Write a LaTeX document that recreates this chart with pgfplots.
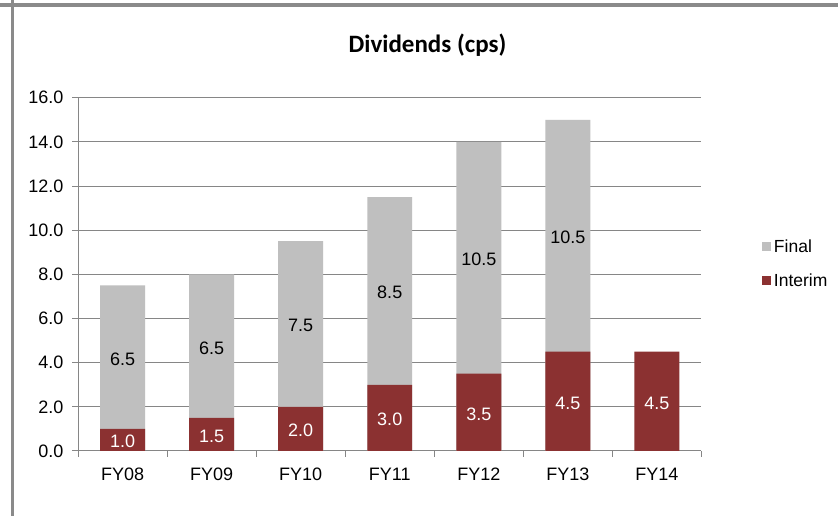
\documentclass[border=0pt]{standalone}
\usepackage{pgfplots}
\pgfplotsset{compat=1.18}
\usepackage{fontspec}
\setmainfont{Liberation Sans}
\newfontfamily\titlefont{Carlito}
\definecolor{interim}{RGB}{139,49,49}
\definecolor{final}{RGB}{191,191,191}
\definecolor{gridc}{RGB}{134,134,134}
\definecolor{framec}{RGB}{138,138,138}
\begin{document}
\begin{tikzpicture}[x=1pt,y=1pt]
\path[use as bounding box] (0,0) rectangle (838,516);
\fill[white] (0,0) rectangle (838,516);
\draw[framec, line width=3.8pt] (0,510.7) -- (838,510.7);
\draw[framec, line width=3.5pt] (12.7,0) -- (12.7,516);
\node[font=\titlefont\bfseries\fontsize{25}{30}\selectfont] at (427.5,471) {Dividends (cps)};
\begin{axis}[
  at={(78pt,65pt)}, anchor=south west,
  scale only axis, width=623.5pt, height=353.3pt,
  xmin=-0.5, xmax=6.5, ymin=0, ymax=16,
  axis lines*=left,
  axis line style={gridc, line width=1pt},
  ytick={0,2,...,16},
  ymajorgrids, grid style={gridc, line width=1pt},
  xtick={-0.5,0.5,...,6.5},
  xticklabels={},
  extra x ticks={0,1,2,3,4,5,6},
  extra x tick labels={FY08,FY09,FY10,FY11,FY12,FY13,FY14},
  extra x tick style={tick style={draw=none}},
  major tick length=6pt,
  tick align=outside,
  tick style={gridc, line width=1pt},
  tick label style={font=\fontsize{18}{21.6}\selectfont, text=black},
  yticklabel style={/pgf/number format/.cd, fixed, fixed zerofill, precision=1, /tikz/.cd, xshift=-5pt},
  /pgf/number format/assume math mode=true,
  xticklabel style={anchor=north, text height=12.9pt, text depth=0pt, yshift=-7pt},
  legend style={at={(1.097,0.531)}, anchor=west, draw=none, fill=none, inner sep=0pt, outer sep=0pt,
    font=\fontsize{17.5}{21}\selectfont, row sep=21.5pt, /tikz/column sep=3pt,
    nodes={inner sep=0pt, text height=12.6pt, text depth=0pt}},
  legend cell align=left,
  clip=false,
]
\addplot[ybar, bar width=0.505, bar shift=0pt, fill=final, draw=none,
  legend image code/.code={\fill[final] (0pt,-4.5pt) rectangle (9pt,4.5pt);}]
  table {
x y
0 7.5
1 8.0
2 9.5
3 11.5
4 14.0
5 15.0
};
\addlegendentry{Final}
\addplot[ybar, bar width=0.505, bar shift=0pt, fill=interim, draw=none,
  legend image code/.code={\fill[interim] (0pt,-4.5pt) rectangle (9pt,4.5pt);}]
  table {
x y
0 1.0
1 1.5
2 2.0
3 3.0
4 3.5
5 4.5
6 4.5
};
\addlegendentry{Interim}
\addplot[forget plot, draw=none, mark=none, nodes near coords, point meta=explicit symbolic,
  every node near coord/.append style={anchor=center, text=black, yshift=-1.5pt,
    text height=12.9pt, text depth=0pt, font=\fontsize{18}{21.6}\selectfont}]
  table[meta=lab] {
x y lab
0 4.25 6.5
1 4.75 6.5
2 5.75 7.5
3 7.25 8.5
4 8.75 10.5
5 9.75 10.5
};
\addplot[forget plot, draw=none, mark=none, nodes near coords, point meta=explicit symbolic,
  every node near coord/.append style={anchor=center, text=white, yshift=-1.5pt,
    text height=12.9pt, text depth=0pt, font=\fontsize{18}{21.6}\selectfont}]
  table[meta=lab] {
x y lab
0 0.5 1.0
1 0.75 1.5
2 1.0 2.0
3 1.5 3.0
4 1.75 3.5
5 2.25 4.5
6 2.25 4.5
};
\end{axis}
\end{tikzpicture}
\end{document}
